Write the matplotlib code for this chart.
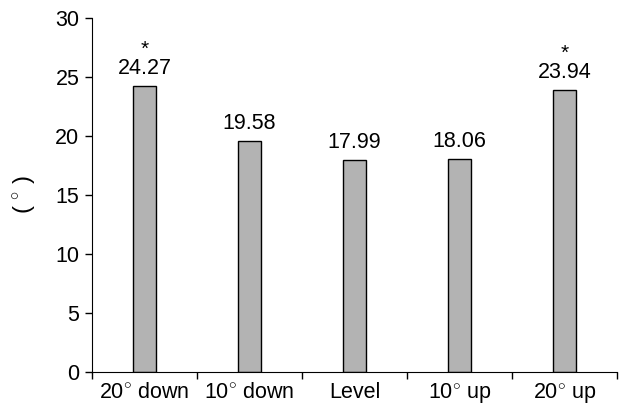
import numpy as np
import matplotlib.pyplot as plt

plt.rcParams['font.family'] = ['Liberation Sans', 'DejaVu Sans']
plt.rcParams['mathtext.fontset'] = 'custom'
plt.rcParams['mathtext.rm'] = 'Liberation Sans'

labels = ['20$^{\\circ}$ down', '10$^{\\circ}$ down', 'Level', '10$^{\\circ}$ up', '20$^{\\circ}$ up']
values = [24.27, 19.58, 17.99, 18.06, 23.94]
stars = ['*', '', '', '', '*']

fig = plt.figure(figsize=(6.24, 4.08), dpi=100)
ax = fig.add_axes([92 / 624, 36 / 408, 525 / 624, 354 / 408])

x = np.arange(len(values))
ax.bar(x, values, width=0.22, color='#b3b3b3', edgecolor='black', linewidth=1.0)

for xi, v, s in zip(x, values, stars):
    ax.annotate(f'{v:.2f}', (xi, v), xytext=(0, 5), textcoords='offset points',
                ha='center', va='bottom', fontsize=15.5)
    if s:
        ax.annotate(s, (xi, v), xytext=(0, 19), textcoords='offset points',
                    ha='center', va='bottom', fontsize=15)

ax.set_xlim(-0.5, len(values) - 0.5)
ax.set_ylim(0, 30)
ax.set_yticks(range(0, 31, 5))
ax.set_xticks(x)
ax.set_xticklabels(labels)
ax.set_xticks(np.arange(-0.5, len(values)), minor=True)
ax.tick_params(axis='x', which='major', length=0, labelsize=15.5, pad=7)
ax.tick_params(axis='x', which='minor', length=5, direction='out', width=1)
ax.tick_params(axis='y', length=5, width=1, labelsize=15.5, pad=4)
ax.spines['top'].set_visible(False)
ax.spines['right'].set_visible(False)
ax.set_ylabel('( $^{\\circ}$ )', fontsize=17, labelpad=12)

fig.savefig('out.png', dpi=100)
